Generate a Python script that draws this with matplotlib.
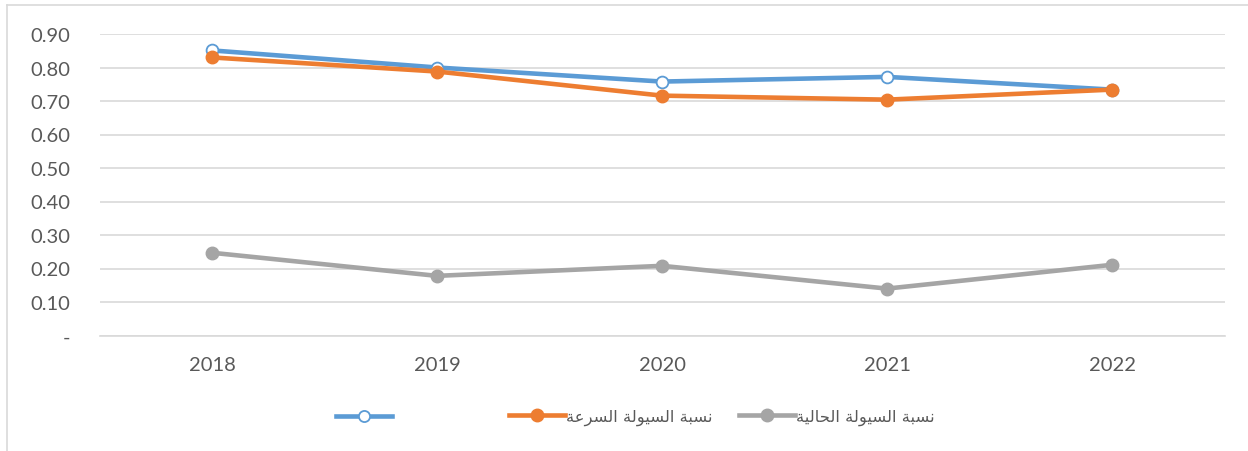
import matplotlib
matplotlib.use("Agg")
import matplotlib.pyplot as plt
from matplotlib.lines import Line2D

# data
years = ["2018", "2019", "2020", "2021", "2022"]
blue_vals = [0.851, 0.800, 0.758, 0.772, 0.734]
orange_vals = [0.830, 0.788, 0.716, 0.704, 0.734]
gray_vals = [0.247, 0.178, 0.208, 0.140, 0.211]
yticks = [0, 0.1, 0.2, 0.3, 0.4, 0.5, 0.6, 0.7, 0.8, 0.9]
ytick_labels = ["-", "0.10", "0.20", "0.30", "0.40", "0.50", "0.60", "0.70", "0.80", "0.90"]
label_orange = "نسبة السيولة السرعة"
label_gray = "نسبة السيولة الحالية"

# tiny arabic shaper: (isolated, final, initial, medial); None = no left join
FORMS = {
    "ا": (0xFE8D, 0xFE8E, None, None),
    "ب": (0xFE8F, 0xFE90, 0xFE91, 0xFE92),
    "ة": (0xFE93, 0xFE94, None, None),
    "ح": (0xFEA1, 0xFEA2, 0xFEA3, 0xFEA4),
    "ر": (0xFEAD, 0xFEAE, None, None),
    "س": (0xFEB1, 0xFEB2, 0xFEB3, 0xFEB4),
    "ع": (0xFEC9, 0xFECA, 0xFECB, 0xFECC),
    "ل": (0xFEDD, 0xFEDE, 0xFEDF, 0xFEE0),
    "ن": (0xFEE5, 0xFEE6, 0xFEE7, 0xFEE8),
    "و": (0xFEED, 0xFEEE, None, None),
    "ي": (0xFEF1, 0xFEF2, 0xFEF3, 0xFEF4),
}

def shape(s):
    out = []
    for i, ch in enumerate(s):
        if ch not in FORMS:
            out.append(ch)
            continue
        prev = s[i - 1] if i > 0 else " "
        nxt = s[i + 1] if i + 1 < len(s) else " "
        join_prev = prev in FORMS and FORMS[prev][2] is not None
        join_next = nxt in FORMS and FORMS[ch][2] is not None
        iso, fin, ini, med = FORMS[ch]
        if join_prev and join_next:
            c = med
        elif join_prev:
            c = fin
        elif join_next:
            c = ini
        else:
            c = iso
        out.append(chr(c))
    return "".join(out)[::-1]

BLUE = "#5B9BD5"
ORANGE = "#ED7D31"
GRAY = "#A5A5A5"
TXT = "#595959"

plt.rcParams["font.family"] = ["Lato", "DejaVu Sans"]

fig = plt.figure(figsize=(12.48, 4.52), dpi=100)
ax = fig.add_axes([99.5 / 1248, 1 - 336.5 / 452, 1125 / 1248, 301.5 / 452])

x = list(range(len(years)))
ax.plot(x, gray_vals, color=GRAY, lw=3.3, marker="o", ms=9, zorder=3)
ax.plot(x, blue_vals, color=BLUE, lw=3.3, marker="o", ms=8.5,
        mfc="white", mec=BLUE, mew=1.3, zorder=4)
ax.plot(x, orange_vals, color=ORANGE, lw=3.3, marker="o", ms=9, zorder=5)

ax.set_xlim(-0.5, 4.5)
ax.set_ylim(0, 0.9)
ax.set_yticks(yticks)
ax.set_yticklabels(ytick_labels)
ax.set_xticks(x)
ax.set_xticklabels(years)
ax.yaxis.grid(True, color="#D9D9D9", lw=1.2)
ax.set_axisbelow(True)
for sp in ax.spines.values():
    sp.set_visible(False)
ax.spines["bottom"].set_visible(True)
ax.spines["bottom"].set_color("#D9D9D9")
ax.spines["bottom"].set_linewidth(1.2)
ax.tick_params(length=0, labelsize=14.5, colors=TXT)
ax.tick_params(axis="y", pad=21)
ax.tick_params(axis="x", pad=15)
for t in ax.get_yticklabels():
    t.set_horizontalalignment("right")

# legend, one entry at a time so spacing follows the reference
entries = [
    (Line2D([], [], color=BLUE, lw=3.3, marker="o", ms=8, mfc="white", mec=BLUE, mew=1.3), "", 336),
    (Line2D([], [], color=ORANGE, lw=3.3, marker="o", ms=9), shape(label_orange), 509),
    (Line2D([], [], color=GRAY, lw=3.3, marker="o", ms=9), shape(label_gray), 739),
]
for h, lab, px in entries:
    fig.legend([h], [lab], loc="center left", bbox_to_anchor=(px / 1248, 1 - 418 / 452),
               frameon=False, handlelength=3.4, handletextpad=0.1, borderpad=0, borderaxespad=0,
               prop={"family": "DejaVu Sans", "size": 11.8}, labelcolor=TXT)

# light chart-area border (top and left only are visible)
fig.add_artist(Line2D([7 / 1248, 1.0], [1 - 6 / 452, 1 - 6 / 452], color="#D9D9D9", lw=1.2,
                      transform=fig.transFigure))
fig.add_artist(Line2D([7 / 1248, 7 / 1248], [0, 1 - 6 / 452], color="#D9D9D9", lw=1.2,
                      transform=fig.transFigure))

fig.savefig("out.png", dpi=100)
